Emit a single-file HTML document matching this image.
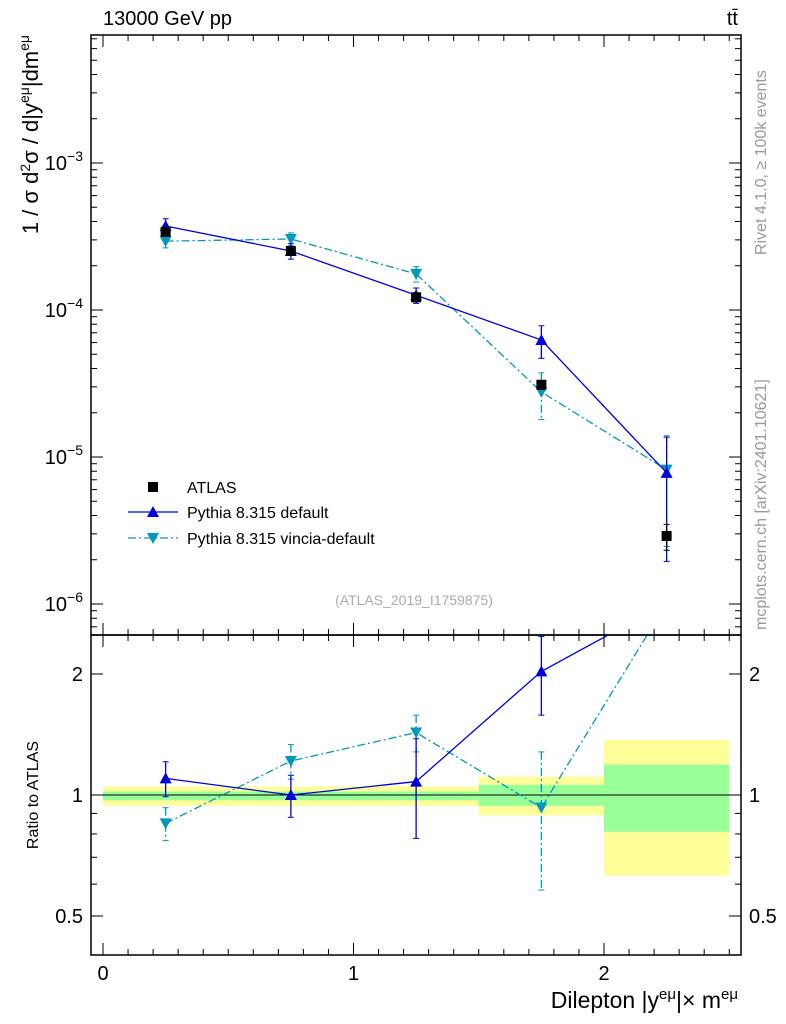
<!DOCTYPE html>
<html><head><meta charset="utf-8"><style>
body{margin:0;background:#fff;}
svg{display:block;font-family:"Liberation Sans",sans-serif;}
</style></head><body>
<svg id="c" width="786" height="1024"></svg>
<script>
const bins=[0,0.5,1,1.5,2,2.5];
const xs=[0.25,0.75,1.25,1.75,2.25];
const atlas=[3.4e-4,2.52e-4,1.22e-4,3.1e-5,2.9e-6];
const atlasErr=[0.05,0.06,0.07,0.07,0.2];
const pyDef=[3.73e-4,2.52e-4,1.26e-4,6.25e-5,7.8e-6];
const pyDefErr=[0.12,0.12,0.12,0.25,0.75];
const pyVin=[2.94e-4,3.04e-4,1.76e-4,2.77e-5,8.2e-6];
const pyVinErr=[0.1,0.1,0.12,0.35,0.7];
const ratioDef=[1.1,1.0,1.08,2.03,3.0];
const ratioDefErr=[0.11,0.12,0.3,0.45,0.3];
const ratioVin=[0.85,1.215,1.43,0.93,3.0];
const ratioVinErr=[0.08,0.12,0.15,0.35,0.3];
const bandYHi=[1.05,1.05,1.05,1.11,1.37];
const bandYLo=[0.94,0.94,0.94,0.89,0.63];
const bandGHi=[1.02,1.02,1.02,1.06,1.19];
const bandGLo=[0.97,0.97,0.97,0.94,0.81];
const yTicks=[-6,-5,-4,-3];
const rTicks=[0.5,1,2];
const xTicks=[0,1,2];

const NS="http://www.w3.org/2000/svg";
const svg=document.getElementById('c');
function el(t,a,p){const e=document.createElementNS(NS,t);for(const k in a)e.setAttribute(k,a[k]);(p||svg).appendChild(e);return e;}
const L=91,R=741,T=35,M=635,B=955;
const X=v=>103+(v)*250.5;
const Y=v=>163-(Math.log10(v)+3)*147;
const YR=v=>795-Math.log2(v)*121;

const defs=el('defs',{});
const cp1=el('clipPath',{id:'cp1'},defs);el('rect',{x:L,y:T,width:R-L,height:M-T},cp1);
const cp2=el('clipPath',{id:'cp2'},defs);el('rect',{x:L,y:M,width:R-L,height:B-M},cp2);

const gb=el('g',{'clip-path':'url(#cp2)'});
for(let i=0;i<5;i++){
 const b=el('rect',{x:X(bins[i]),width:X(bins[i+1])-X(bins[i]),y:YR(bandYHi[i]),height:YR(bandYLo[i])-YR(bandYHi[i]),fill:'#ffff99'},gb);
 
 const g=el('rect',{x:X(bins[i]),width:X(bins[i+1])-X(bins[i]),y:YR(bandGHi[i]),height:YR(bandGLo[i])-YR(bandGHi[i]),fill:'#99ff99'},gb);
 
}
el('line',{x1:L,x2:R,y1:YR(1),y2:YR(1),stroke:'#000','stroke-width':1});

el('rect',{x:L,y:T,width:R-L,height:M-T,fill:'none',stroke:'#000','stroke-width':1.5});
el('rect',{x:L,y:M,width:R-L,height:B-M,fill:'none',stroke:'#000','stroke-width':1.5});

for(let d=-7;d<=-2;d++)for(let m=1;m<10;m++){
 const y=Y(m*Math.pow(10,d));if(y<T||y>M)continue;
 const len=m==1?12:6;
 el('line',{x1:L,x2:L+len,y1:y,y2:y,stroke:'#000'});el('line',{x1:R,x2:R-len,y1:y,y2:y,stroke:'#000'});
}
yTicks.forEach(d=>{const t=el('text',{x:L-8,y:Y(Math.pow(10,d))+7,'text-anchor':'end','font-size':20});
 t.innerHTML='10<tspan dy="-9" font-size="14">'+(d<0?'−':'')+Math.abs(d)+'</tspan>';
 });
[0.4,0.5,0.6,0.7,0.8,0.9,1,2].forEach(v=>{const y=YR(v);const len=(v==0.5||v==1||v==2)?12:6;
 el('line',{x1:L,x2:L+len,y1:y,y2:y,stroke:'#000'});el('line',{x1:R,x2:R-len,y1:y,y2:y,stroke:'#000'});});
rTicks.forEach(v=>{[[L-8,'end'],[R+8,'start']].forEach(([x,a])=>{const t=el('text',{x:x,y:YR(v)+7,'text-anchor':a,'font-size':20});t.textContent=String(v);
 });});
for(let v=0;v<=2.55;v+=0.1){const vv=Math.round(v*10)/10;const big=Math.abs(vv-Math.round(vv))<1e-6;const len=big?12:6;const x=X(vv);
 [[T,1],[M,1],[M,-1],[B,-1]].forEach(([y,s])=>el('line',{x1:x,x2:x,y1:y,y2:y+s*len,stroke:'#000'}));}
xTicks.forEach(v=>{const t=el('text',{x:X(v),y:980,'text-anchor':'middle','font-size':20});t.textContent=v;
 });

function series(vals,errs,col,dash,marker,clip,name,yf,logerr){
 const g=el('g',{'clip-path':clip});
 
 if(col){const pts=xs.map((x,i)=>X(x)+','+yf(vals[i])).join(' ');
  el('polyline',{points:pts,fill:'none',stroke:col,'stroke-width':1.3,'stroke-dasharray':dash||'none'},g);}
 xs.forEach((x,i)=>{const c=col||'#000';const cx=X(x);
  const hi=logerr?vals[i]*(1+errs[i]):vals[i]+errs[i];const lo=logerr?vals[i]*Math.max(0.05,1-errs[i]):Math.max(0.01,vals[i]-errs[i]);
  el('line',{x1:cx,x2:cx,y1:yf(hi),y2:yf(lo),stroke:c,'stroke-width':1.3,'stroke-dasharray':dash||'none'},g);
  el('line',{x1:cx-3,x2:cx+3,y1:yf(hi),y2:yf(hi),stroke:c},g);el('line',{x1:cx-3,x2:cx+3,y1:yf(lo),y2:yf(lo),stroke:c},g);
  const y=yf(vals[i]);
  if(marker=='sq')el('rect',{x:cx-5,y:y-5,width:10,height:10,fill:'#000'},g);
  else if(marker=='up')el('polygon',{points:`${cx},${y-6} ${cx-6},${y+5} ${cx+6},${y+5}`,fill:c},g);
  else el('polygon',{points:`${cx},${y+6} ${cx-6},${y-5} ${cx+6},${y-5}`,fill:c},g);
 });
}
series(pyVin,pyVinErr,'#0099bb','8,3,2,3','dn','url(#cp1)','vincia-series',Y,true);
series(pyDef,pyDefErr,'#0000dd',null,'up','url(#cp1)','default-series',Y,true);
series(atlas,atlasErr,null,null,'sq','url(#cp1)','atlas-series',Y,true);
series(ratioVin,ratioVinErr,'#0099bb','8,3,2,3','dn','url(#cp2)','ratio-vincia',YR,false);
series(ratioDef,ratioDefErr,'#0000dd',null,'up','url(#cp2)','ratio-default',YR,false);

function leg(y,col,dash,marker,label,nm){const g=el('g',{});
 if(col)el('line',{x1:128,x2:178,y1:y,y2:y,stroke:col,'stroke-width':1.3,'stroke-dasharray':dash||'none'},g);
 const cx=153;
 if(marker=='sq')el('rect',{x:cx-5,y:y-5,width:10,height:10,fill:'#000'},g);
 else if(marker=='up')el('polygon',{points:`${cx},${y-6} ${cx-6},${y+5} ${cx+6},${y+5}`,fill:col},g);
 else el('polygon',{points:`${cx},${y+6} ${cx-6},${y-5} ${cx+6},${y-5}`,fill:col},g);
 const t=el('text',{x:187,y:y+6,'font-size':16},g);t.textContent=label;}
leg(487,null,null,'sq','ATLAS','legend-atlas');
leg(512,'#0000dd',null,'up','Pythia 8.315 default','legend-default');
leg(538,'#0099bb','8,3,2,3','dn','Pythia 8.315 vincia-default','legend-vincia');

function txt(x,y,s,attrs,nm){const t=el('text',Object.assign({x:x,y:y},attrs));t.innerHTML=s;return t;}
txt(414,605,'(ATLAS_2019_I1759875)',{'font-size':14,fill:'#aaa','text-anchor':'middle'},'analysis-id');
txt(103,25,'13000 GeV pp',{'font-size':20},'process-label');
txt(738,25,'tt\u0304',{'font-size':20,'text-anchor':'end'},'ttbar-label');
txt(0,0,'Rivet 4.1.0, ≥ 100k events',{'font-size':16,fill:'#999',transform:'translate(766,255) rotate(-90)'},'rivet-label');
txt(0,0,'mcplots.cern.ch [arXiv:2401.10621]',{'font-size':16,fill:'#999',transform:'translate(766,630) rotate(-90)'},'mcplots-label');
txt(0,0,'1 / σ  d<tspan dy="-8" font-size="14">2</tspan><tspan dy="8">σ / d|y</tspan><tspan dy="-9" font-size="14">eμ</tspan><tspan dy="9">|dm</tspan><tspan dy="-9" font-size="14">eμ</tspan>',{'font-size':22,'text-anchor':'end',transform:'translate(38,35) rotate(-90)'},'y-axis-title');
txt(0,0,'Ratio to ATLAS',{'font-size':16,'text-anchor':'middle',transform:'translate(38,795) rotate(-90)'},'ratio-axis-title');
txt(738,1008,'Dilepton |y<tspan dy="-9" font-size="15">eμ</tspan><tspan dy="9">|× m</tspan><tspan dy="-9" font-size="15">eμ</tspan>',{'font-size':23,'text-anchor':'end'},'x-axis-title');
</script>
</body></html>
